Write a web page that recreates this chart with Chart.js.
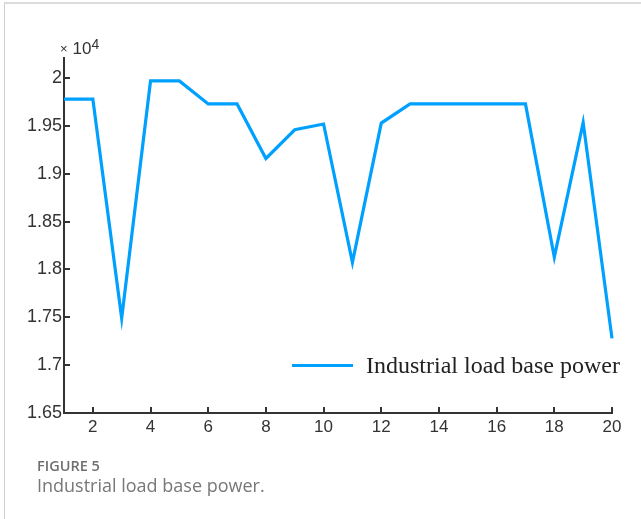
<!DOCTYPE html>
<html>
<head>
<meta charset="utf-8">
<script src="https://cdn.jsdelivr.net/npm/chart.js@4/dist/chart.umd.min.js"></script>
<style>
  html, body { margin: 0; padding: 0; background: #fff; }
  #wrap { position: relative; width: 641px; height: 519px; overflow: hidden; }
  #frame { position: absolute; left: 4px; top: 2px; right: -2px; bottom: -2px; border-left: 1px solid #cfcfcf; border-top: 2px solid #dcdcdc; }
  canvas { position: absolute; left: 0; top: 0; }
  #exp { position: absolute; left: 60px; top: 39px; font-family: "Liberation Sans", Arial, sans-serif; color: #333; font-size: 17px; white-space: nowrap; line-height: 20px; }
  #exp .x { font-size: 13px; position: relative; top: -1px; margin-right: 5px; }
  #exp sup { font-size: 14px; position: relative; top: -5px; vertical-align: baseline; }
  #legline { position: absolute; left: 292px; top: 364px; width: 61px; height: 3px; background: #00a0ff; }
  #legtext { position: absolute; left: 366px; top: 351px; font-family: "Liberation Serif", "Times New Roman", serif; font-size: 24px; color: #222; white-space: nowrap; line-height: 28px; }
  #fig { position: absolute; left: 37px; top: 456px; font-family: "Open Sans", sans-serif; font-weight: 600; font-size: 14.5px; color: #6f6f6f; line-height: 20px; }
  #cap { position: absolute; left: 37px; top: 473px; font-family: "Open Sans", sans-serif; font-size: 18px; color: #777; white-space: nowrap; line-height: 24px; }
</style>
</head>
<body>
<div id="wrap">
  <div id="frame"></div>
  <canvas id="c" width="641" height="519"></canvas>
  <div id="exp"><span class="x">×</span>10<sup>4</sup></div>
  <div id="legline"></div>
  <div id="legtext">Industrial load base power</div>
  <div id="fig">FIGURE 5</div>
  <div id="cap">Industrial load base power.</div>
</div>
<script>
const seriesName = "Industrial load base power";
const hours = [1,2,3,4,5,6,7,8,9,10,11,12,13,14,15,16,17,18,19,20];
const basePower = [19780,19780,17490,19970,19970,19730,19730,19160,19460,19520,18075,19530,19730,19730,19730,19730,19730,18130,19535,17280];
const xTickValues = [2,4,6,8,10,12,14,16,18,20];
const yTickValues = [16500,17000,17500,18000,18500,19000,19500,20000];
const yScaleFactor = 10000;

const axisColor = '#333';

const inwardTicks = {
  id: 'inwardTicks',
  afterDraw(chart) {
    const ctx = chart.ctx;
    const xs = chart.scales.x, ys = chart.scales.y;
    const ca = chart.chartArea;
    ctx.save();
    ctx.strokeStyle = axisColor;
    ctx.lineWidth = 2;
    ctx.beginPath();
    xs.ticks.forEach(t => {
      const px = Math.round(xs.getPixelForValue(t.value));
      ctx.moveTo(px, ca.bottom);
      ctx.lineTo(px, ca.bottom - 6);
    });
    ys.ticks.forEach(t => {
      const py = Math.round(ys.getPixelForValue(t.value));
      ctx.moveTo(ca.left, py);
      ctx.lineTo(ca.left + 6, py);
    });
    ctx.stroke();
    ctx.restore();
  }
};

new Chart(document.getElementById('c'), {
  type: 'line',
  data: {
    datasets: [{
      label: seriesName,
      data: hours.map((h, i) => ({ x: h, y: basePower[i] })),
      borderColor: '#00a0ff',
      borderWidth: 3.2,
      pointRadius: 0,
      fill: false,
      tension: 0,
      clip: 4
    }]
  },
  options: {
    responsive: false,
    animation: false,
    devicePixelRatio: 1,
    layout: { padding: { left: 0, right: 29, top: 58, bottom: 76 } },
    plugins: { legend: { display: false }, tooltip: { enabled: false } },
    scales: {
      x: {
        type: 'linear',
        min: 1,
        max: 20,
        grid: { display: false, drawTicks: false },
        border: { display: true, color: axisColor, width: 2 },
        afterBuildTicks: s => { s.ticks = xTickValues.map(v => ({ value: v })); },
        afterFit: s => { s.height = 30; },
        ticks: {
          padding: 4,
          color: '#333',
          maxRotation: 0,
          font: { family: 'Liberation Sans, Arial, sans-serif', size: 17 }
        }
      },
      y: {
        min: 16500,
        max: 20210,
        grid: { display: false, drawTicks: false },
        border: { display: true, color: axisColor, width: 2 },
        afterBuildTicks: s => { s.ticks = yTickValues.map(v => ({ value: v })); },
        afterFit: s => { s.width = 64; },
        ticks: {
          padding: 2,
          color: '#333',
          font: { family: 'Liberation Sans, Arial, sans-serif', size: 18 },
          callback: v => String(Math.round(v / yScaleFactor * 100) / 100)
        }
      }
    }
  },
  plugins: [inwardTicks]
});
</script>
</body>
</html>
